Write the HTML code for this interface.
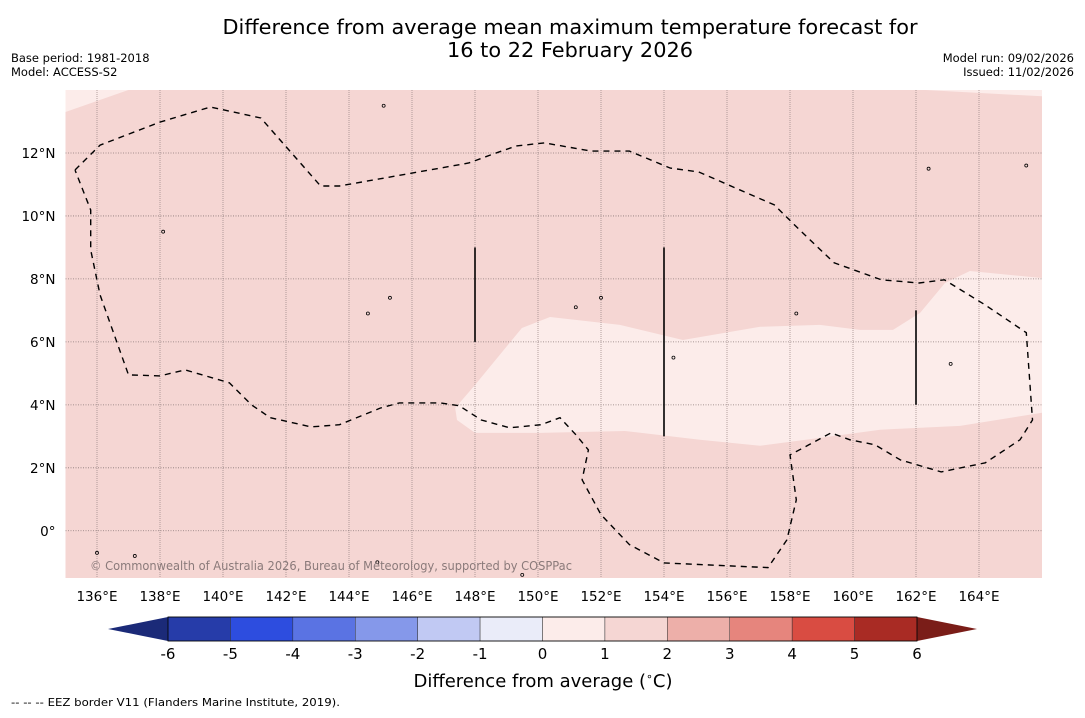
<!DOCTYPE html>
<html><head><meta charset="utf-8">
<style>
body{margin:0;background:#fff;font-family:"Liberation Sans","DejaVu Sans",sans-serif;}
svg text{font-family:"DejaVu Sans","Liberation Sans",sans-serif;}
</style></head>
<body>
<svg id="chart" width="1085" height="713" viewBox="0 0 1085 713" xmlns="http://www.w3.org/2000/svg">
<rect width="1085" height="713" fill="#fff"/>
<text x="570" y="34" font-size="20" text-anchor="middle" fill="#000" textLength="695" lengthAdjust="spacingAndGlyphs">Difference from average mean maximum temperature forecast for</text>
<text x="570" y="57" font-size="20" text-anchor="middle" fill="#000" textLength="246" lengthAdjust="spacingAndGlyphs">16 to 22 February 2026</text>
<text x="11" y="62" font-size="11.5">Base period: 1981-2018</text>
<text x="11" y="76" font-size="11.5">Model: ACCESS-S2</text>
<text x="1074" y="62" font-size="11.5" text-anchor="end">Model run: 09/02/2026</text>
<text x="1074" y="76" font-size="11.5" text-anchor="end">Issued: 11/02/2026</text>
<g id="map"></g>
<g id="cbar"></g>
<text x="543" y="687" font-size="18" text-anchor="middle">Difference from average (<tspan font-size="11" dy="-7">∘</tspan><tspan dy="7">C)</tspan></text>
<text x="11" y="706" font-size="11" textLength="329" lengthAdjust="spacingAndGlyphs">--  --  -- EEZ border V11 (Flanders Marine Institute, 2019).</text>
</svg>
<script>
const lonTicks=[136,138,140,142,144,146,148,150,152,154,156,158,160,162,164];
const latTicks=[0,2,4,6,8,10,12];
const latLabels=["0°","2°N","4°N","6°N","8°N","10°N","12°N"];
const anomalyLevels=[-6,-5,-4,-3,-2,-1,0,1,2,3,4,5,6];
const levelColors=["#263ca9","#2d4ddf","#5a73e3","#8598ea","#c1c9f3","#eaecf9","#fcecea","#f5d6d3","#edafa9","#e6857d","#d94c42","#a92b24"];
const baseAnomalyBand=[1,2];
const warmSpots=[[[135,13.3],[137,14],[135,14]],[[162.3,14],[166,13.8],[166,14]]];
const lightRegion=[[147.37,3.9],[148,4.63],[149.49,6.44],[150.38,6.79],[152.6,6.54],[154.6,6.06],[157.05,6.48],[158.95,6.54],[160.22,6.38],[161.27,6.38],[162.13,6.92],[162.92,7.87],[163.71,8.25],[166,8.03],[166,3.75],[163.4,3.33],[160.86,3.21],[158.95,2.95],[157.05,2.7],[155.14,2.89],[152.76,3.17],[150.06,3.11],[148,3.11],[147.43,3.52]];
const eezLoop=[[135.3,11.46],[136.1,12.25],[138,12.98],[139.6,13.46],[141.2,13.11],[143.1,10.95],[143.7,10.95],[147.8,11.68],[148.5,11.94],[149.3,12.22],[150.2,12.32],[151.7,12.06],[152.9,12.06],[154.2,11.52],[155.1,11.4],[156.4,10.83],[157.5,10.35],[158.3,9.56],[159.4,8.51],[160.9,7.97],[162.1,7.87],[162.9,7.97],[164.2,7.17],[165.5,6.29],[165.7,3.52],[165.3,2.89],[164.2,2.16],[162.8,1.87],[161.5,2.25],[160.7,2.73],[159.9,2.89],[159.3,3.11],[158.6,2.73],[158,2.41],[158.2,0.98],[157.9,-0.29],[157.3,-1.17],[154,-1.02],[152.9,-0.44],[152,0.51],[151.4,1.62],[151.6,2.57],[151.2,3.05],[150.7,3.59],[150.1,3.37],[149.1,3.27],[148.2,3.52],[147.5,3.97],[146.9,4.06],[145.6,4.06],[145,3.9],[143.7,3.37],[142.8,3.3],[141.5,3.59],[140.9,4.0],[140.2,4.7],[138.8,5.11],[138,4.92],[137,4.95],[136.1,7.49],[135.8,8.92],[135.8,10.19],[135.3,11.46]];
const eezSegments=[[[148,9],[148,6]],[[154,9],[154,3]],[[162,7],[162,4]]];
const islands=[[145.1,13.5],[138.1,9.5],[144.6,6.9],[145.3,7.4],[152,7.4],[151.2,7.1],[158.2,6.9],[154.3,5.5],[163.1,5.3],[137.2,-0.8],[136,-0.7],[144.9,-1],[149.5,-1.4],[165.5,11.6],[162.4,11.5]];
const NS="http://www.w3.org/2000/svg";
const L=65.5,R=1042,T=90,B=578,lon0=135,lon1=166,lat0=-1.5,lat1=14;
function x(lon){return L+(lon-lon0)/(lon1-lon0)*(R-L);}
function y(lat){return T+(lat1-lat)/(lat1-lat0)*(B-T);}
function mk(tag,attrs,parent){const e=document.createElementNS(NS,tag);for(const k in attrs)e.setAttribute(k,attrs[k]);parent.appendChild(e);return e;}
function pts(a){return a.map(p=>x(p[0]).toFixed(1)+","+y(p[1]).toFixed(1)).join(" ");}
const map=document.getElementById("map");
const bgIdx=anomalyLevels.indexOf(baseAnomalyBand[0]);
const bg=mk("rect",{x:L,y:T,width:R-L,height:B-T,fill:levelColors[bgIdx]},map);


warmSpots.forEach(s=>{const p=mk("polygon",{points:pts(s),fill:levelColors[bgIdx-1]},map);

});
const lr=mk("polygon",{points:pts(lightRegion),fill:levelColors[bgIdx-1]},map);


lonTicks.forEach(v=>{const g=mk("line",{x1:x(v),x2:x(v),y1:T,y2:B,stroke:"#a08c8c","stroke-width":0.8,"stroke-dasharray":"1,1"},map);


const t=mk("text",{x:x(v),y:B+23,"font-size":13.5,"text-anchor":"middle"},map);t.textContent=v+"°E";

});
latTicks.forEach((v,i)=>{const g=mk("line",{x1:L,x2:R,y1:y(v),y2:y(v),stroke:"#8c7a7a","stroke-width":0.8,"stroke-dasharray":"1,1.5"},map);


const t=mk("text",{x:L-10,y:y(v)+5,"font-size":13.5,"text-anchor":"end"},map);t.textContent=latLabels[i];

});
const eez=mk("polyline",{points:pts(eezLoop),fill:"none",stroke:"#000","stroke-width":1.4,"stroke-dasharray":"6,5"},map);


eezSegments.forEach(s=>{const l=mk("polyline",{points:pts(s),fill:"none",stroke:"#000","stroke-width":1.6},map);

});
islands.forEach(p=>{const c=mk("circle",{cx:x(p[0]),cy:y(p[1]),r:1.5,fill:"none",stroke:"#000","stroke-width":0.8},map);

});
const wm=mk("text",{x:90,y:570,"font-size":12,fill:"#8a7a7a",textLength:482,lengthAdjust:"spacingAndGlyphs"},map);wm.textContent="© Commonwealth of Australia 2026, Bureau of Meteorology, supported by COSPPac";


const cb=document.getElementById("cbar");
const cL=168,cR=917,cT=617,cB=641,n=levelColors.length,w=(cR-cL)/n;
const lt=mk("polygon",{points:`${cL},${cT} ${cL},${cB} 108,${(cT+cB)/2}`,fill:"#1b2a78"},cb);


const rt=mk("polygon",{points:`${cR},${cT} ${cR},${cB} 977,${(cT+cB)/2}`,fill:"#7a1d18"},cb);


levelColors.forEach((c,i)=>{const r=mk("rect",{x:cL+i*w,y:cT,width:w,height:cB-cT,fill:c,stroke:"#333","stroke-width":0.5},cb);

});
mk("rect",{x:cL,y:cT,width:cR-cL,height:cB-cT,fill:"none",stroke:"#000","stroke-width":0.8},cb);
anomalyLevels.forEach((v,i)=>{const t=mk("text",{x:cL+i*w,y:cB+18,"font-size":15,"text-anchor":"middle"},cb);t.textContent=v;

});
</script>
</body></html>
